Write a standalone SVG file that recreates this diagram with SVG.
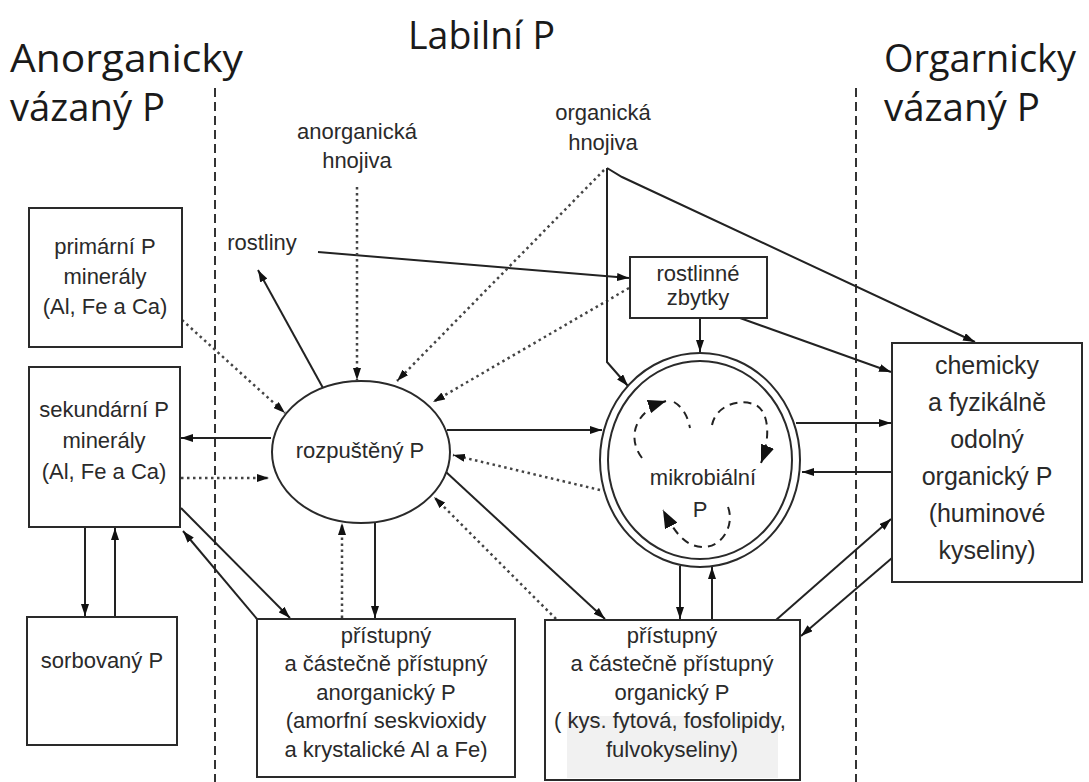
<svg xmlns="http://www.w3.org/2000/svg" width="1089" height="782" viewBox="0 0 1089 782">
<style>
.t{font-family:"Liberation Sans",Arial,sans-serif;font-size:22px;fill:#2a2a2a;text-anchor:middle}
.c{font-size:25px}
.title{font-family:"Open Sans",sans-serif;font-size:38px;fill:#1a1a1a}
.box{fill:#fff;stroke:#2a2a2a;stroke-width:2}
.ln{fill:none;stroke:#222;stroke-width:2}
.dot{fill:none;stroke:#444;stroke-width:2.5;stroke-dasharray:2.5 3.5}
.dash{fill:none;stroke:#222;stroke-width:2;stroke-dasharray:8 6}
.div{stroke:#333;stroke-width:2;stroke-dasharray:9 5}
</style>
<defs>
<marker id="ah" viewBox="0 0 12 8" refX="12" refY="4" markerWidth="12" markerHeight="8" orient="auto" markerUnits="userSpaceOnUse"><path d="M0,0 L12,4 L0,8 z" fill="#111"/></marker>
<marker id="ahb" viewBox="0 0 18 14" refX="18" refY="7" markerWidth="18" markerHeight="14" orient="auto" markerUnits="userSpaceOnUse"><path d="M0,0 L18,7 L0,14 z" fill="#111"/></marker>
</defs>
<rect width="1089" height="782" fill="#fff"/>
<g id="dividers">
<line class="div" x1="215" y1="88" x2="215" y2="782"/>
<line class="div" x1="856" y1="88" x2="856" y2="782"/>
</g>
<g id="titles">
<text class="title" x="10" y="72" textLength="233" lengthAdjust="spacingAndGlyphs">Anorganicky</text>
<text class="title" x="10" y="121" textLength="155" lengthAdjust="spacingAndGlyphs">vázaný P</text>
<text class="title" x="408" y="49" textLength="147" lengthAdjust="spacingAndGlyphs">Labilní P</text>
<text class="title" x="884" y="72" textLength="192" lengthAdjust="spacingAndGlyphs">Orgarnicky</text>
<text class="title" x="884" y="121" textLength="156" lengthAdjust="spacingAndGlyphs">vázaný P</text>
</g>
<g id="connectors">
<path class="ln" d="M318,252 L629,278" marker-end="url(#ah)"/>
<path class="ln" d="M323,388 L258,270" marker-end="url(#ah)"/>
<path class="dot" d="M357,187 L357,380" marker-end="url(#ah)"/>
<path class="dot" d="M604,170 L397,381" marker-end="url(#ah)"/>
<path class="dot" d="M629,288 L433,402" marker-end="url(#ah)"/>
<path class="dot" d="M182,320 L285,413" marker-end="url(#ah)"/>
<path class="ln" d="M607,168 L607,362 L628,386" marker-end="url(#ah)"/>
<path class="ln" d="M607,168 L622,177 L975,342" marker-end="url(#ah)"/>
<path class="ln" d="M700,318 L700,352" marker-end="url(#ah)"/>
<path class="ln" d="M740,318 L891,372" marker-end="url(#ah)"/>
<path class="ln" d="M447,430 L602,430" marker-end="url(#ah)"/>
<path class="dot" d="M600,490 L453,455" marker-end="url(#ah)"/>
<path class="ln" d="M796,423 L891,423" marker-end="url(#ah)"/>
<path class="ln" d="M892,472 L802,472" marker-end="url(#ah)"/>
<path class="ln" d="M271,438 L181,438" marker-end="url(#ah)"/>
<path class="dot" d="M181,478 L269,478" marker-end="url(#ah)"/>
<path class="ln" d="M85,527 L85,616" marker-end="url(#ah)"/>
<path class="ln" d="M115,617 L115,528" marker-end="url(#ah)"/>
<path class="ln" d="M181,508 L290,618" marker-end="url(#ah)"/>
<path class="ln" d="M257,619 L183,531" marker-end="url(#ah)"/>
<path class="ln" d="M375,523 L375,618" marker-end="url(#ah)"/>
<path class="dot" d="M342,618 L342,523" marker-end="url(#ah)"/>
<path class="ln" d="M446,472 L605,619" marker-end="url(#ah)"/>
<path class="dot" d="M556,619 L434,497" marker-end="url(#ah)"/>
<path class="ln" d="M680,566 L680,619" marker-end="url(#ah)"/>
<path class="ln" d="M712,620 L712,567" marker-end="url(#ah)"/>
<path class="ln" d="M776,620 L891,519" marker-end="url(#ah)"/>
<path class="ln" d="M892,558 L801,636" marker-end="url(#ah)"/>
</g>
<g id="primarni">
<rect class="box" x="29" y="208" width="153" height="139"/>
<text class="t" x="105" y="254">primární P</text>
<text class="t" x="105" y="284">minerály</text>
<text class="t" x="105" y="314">(Al, Fe a Ca)</text>
</g>
<g id="sekundarni">
<rect class="box" x="29" y="367" width="151" height="160"/>
<text class="t" x="104" y="417">sekundární P</text>
<text class="t" x="104" y="448">minerály</text>
<text class="t" x="104" y="479">(Al, Fe a Ca)</text>
</g>
<g id="sorbovany">
<rect class="box" x="27" y="617" width="150" height="128"/>
<text class="t" x="102" y="668">sorbovaný P</text>
</g>
<g id="rostliny">
<text class="t" x="262" y="250">rostliny</text>
</g>
<g id="anorg-hnojiva">
<text class="t" x="357" y="139">anorganická</text>
<text class="t" x="357" y="168">hnojiva</text>
</g>
<g id="org-hnojiva">
<text class="t" x="603" y="120">organická</text>
<text class="t" x="603" y="150">hnojiva</text>
</g>
<g id="rostlinne-zbytky">
<rect class="box" x="630" y="257" width="137" height="61"/>
<text class="t" x="698" y="281">rostlinné</text>
<text class="t" x="698" y="305">zbytky</text>
</g>
<g id="rozpusteny">
<ellipse class="box" cx="361" cy="452" rx="89" ry="71"/>
<text class="t" x="360" y="458">rozpuštěný P</text>
</g>
<g id="mikrobialni">
<ellipse class="box" cx="700" cy="460" rx="100" ry="107"/>
<ellipse class="box" cx="700" cy="460" rx="92" ry="99"/>
<path class="dash" d="M642,458 C628,440 632,412 666,401" marker-end="url(#ahb)"/>
<path class="dash" d="M674,402 C684,408 688,418 690,428"/>
<path class="dash" d="M712,425 C716,405 740,398 756,405 C770,413 770,440 761,463" marker-end="url(#ahb)"/>
<path class="dash" d="M728,507 C735,525 722,548 702,547 C686,546 676,535 663,510" marker-end="url(#ahb)"/>
<text class="t" x="703" y="485">mikrobiální</text>
<text class="t" x="700" y="517">P</text>
</g>
<g id="anorg-pristupny">
<rect class="box" x="257" y="619" width="258" height="158"/>
<text class="t" x="386" y="643">přístupný</text>
<text class="t" x="386" y="671">a částečně přístupný</text>
<text class="t" x="386" y="700">anorganický P</text>
<text class="t" x="386" y="728">(amorfní seskvioxidy</text>
<text class="t" x="386" y="757">a krystalické Al a Fe)</text>
</g>
<g id="org-pristupny">
<rect class="box" x="545" y="620" width="255" height="160"/>
<rect x="567" y="716" width="211" height="62" fill="#f1f1f1"/>
<text class="t" x="672" y="643">přístupný</text>
<text class="t" x="672" y="671">a částečně přístupný</text>
<text class="t" x="672" y="700">organický P</text>
<text class="t" x="670" y="728">( kys. fytová, fosfolipidy,</text>
<text class="t" x="672" y="757">fulvokyseliny)</text>
</g>
<g id="chemicky">
<rect class="box" x="892" y="343" width="190" height="239"/>
<text class="t c" x="987" y="374">chemicky</text>
<text class="t c" x="987" y="411">a fyzikálně</text>
<text class="t c" x="987" y="448">odolný</text>
<text class="t c" x="987" y="485">organický P</text>
<text class="t c" x="987" y="522">(huminové</text>
<text class="t c" x="987" y="559">kyseliny)</text>
</g>
</svg>
